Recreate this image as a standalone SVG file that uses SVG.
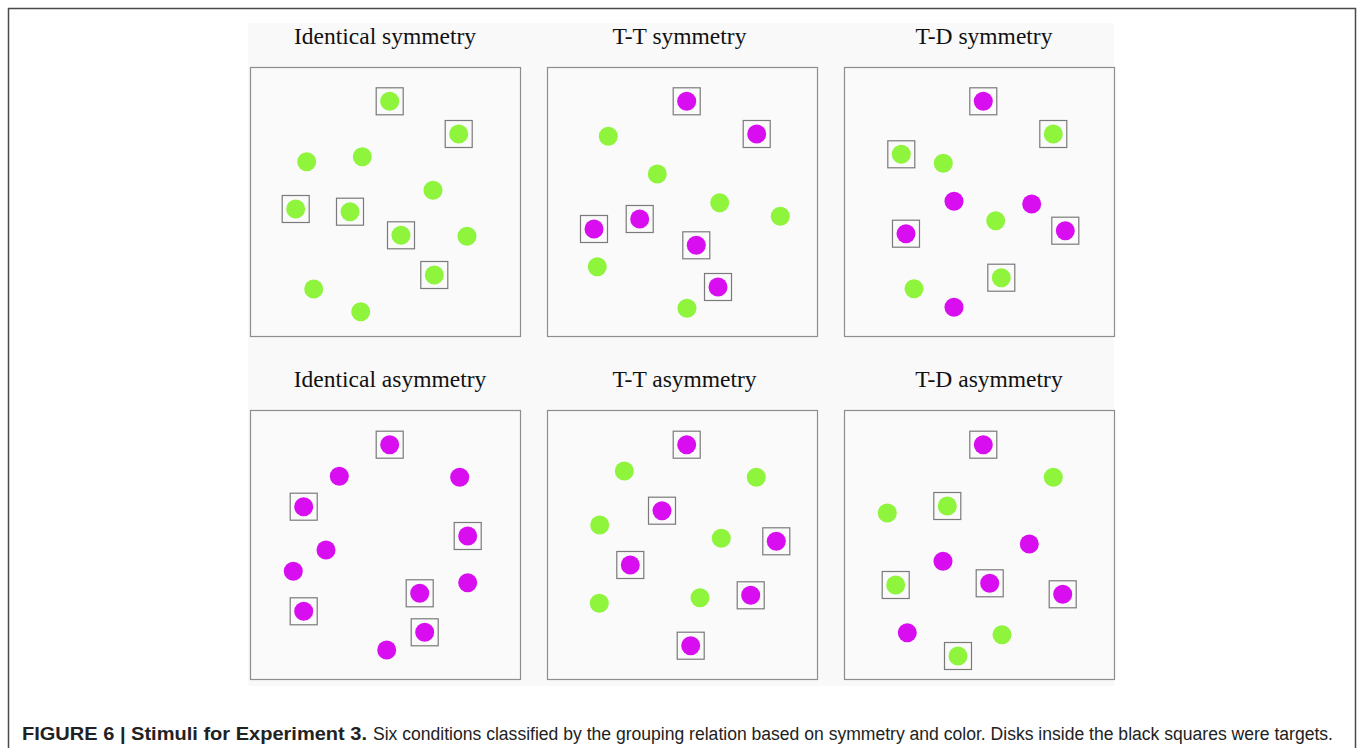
<svg xmlns="http://www.w3.org/2000/svg" width="1358" height="748" viewBox="0 0 1358 748">
<style>
.frame{fill:none;stroke:#4a4a4a;stroke-width:1.5}
.bg{fill:#f9f9f9}
.box{fill:#fafafa;stroke:#8e8e8e;stroke-width:1.2}
.title{font-family:"Liberation Serif","Times New Roman",serif;font-size:23.5px;fill:#111;text-anchor:middle}
.g{fill:#8ef43c}
.m{fill:#d80ef1}
.sq{fill:none;stroke:#7a7a7a;stroke-width:1.2}
.cap{font-family:"Liberation Sans",Arial,sans-serif;font-size:18px;fill:#222}
.capb{font-weight:bold}
</style>
<rect x="0" y="0" width="1358" height="748" fill="#ffffff"/>
<path class="frame" d="M8.5,748 V8.5 H1355.5 V748"/>
<rect class="bg" x="248" y="23" width="866" height="663"/>

<g id="panel-identical-symmetry">
<text class="title" x="385" y="44">Identical symmetry</text>
<rect class="box" x="250.5" y="67.5" width="270" height="269"/>
<g>
<circle class="g" cx="389.7" cy="101.3" r="9.5"/><rect class="sq" x="376.2" y="87.8" width="27" height="27"/>
<circle class="g" cx="458.7" cy="134" r="9.5"/><rect class="sq" x="445.2" y="120.5" width="27" height="27"/>
<circle class="g" cx="295.7" cy="209" r="9.5"/><rect class="sq" x="282.2" y="195.5" width="27" height="27"/>
<circle class="g" cx="350" cy="211.7" r="9.5"/><rect class="sq" x="336.5" y="198.2" width="27" height="27"/>
<circle class="g" cx="401" cy="235.3" r="9.5"/><rect class="sq" x="387.5" y="221.8" width="27" height="27"/>
<circle class="g" cx="434.3" cy="275" r="9.5"/><rect class="sq" x="420.8" y="261.5" width="27" height="27"/>
<circle class="g" cx="306.7" cy="161.7" r="9.5"/>
<circle class="g" cx="362.3" cy="156.7" r="9.5"/>
<circle class="g" cx="433" cy="190.3" r="9.5"/>
<circle class="g" cx="467" cy="236.3" r="9.5"/>
<circle class="g" cx="313.7" cy="289" r="9.5"/>
<circle class="g" cx="360.7" cy="311.7" r="9.5"/>
</g>
</g>

<g id="panel-tt-symmetry">
<text class="title" x="679.5" y="44">T-T symmetry</text>
<rect class="box" x="547.5" y="67.5" width="270" height="269"/>
<g>
<circle class="m" cx="686.7" cy="101.3" r="9.5"/><rect class="sq" x="673.2" y="87.8" width="27" height="27"/>
<circle class="m" cx="756.7" cy="134" r="9.5"/><rect class="sq" x="743.2" y="120.5" width="27" height="27"/>
<circle class="m" cx="594" cy="229" r="9.5"/><rect class="sq" x="580.5" y="215.5" width="27" height="27"/>
<circle class="m" cx="639.7" cy="219" r="9.5"/><rect class="sq" x="626.2" y="205.5" width="27" height="27"/>
<circle class="m" cx="696.3" cy="245.3" r="9.5"/><rect class="sq" x="682.8" y="231.8" width="27" height="27"/>
<circle class="m" cx="718" cy="287" r="9.5"/><rect class="sq" x="704.5" y="273.5" width="27" height="27"/>
<circle class="g" cx="608.3" cy="136.3" r="9.5"/>
<circle class="g" cx="657.3" cy="174" r="9.5"/>
<circle class="g" cx="719.7" cy="202.7" r="9.5"/>
<circle class="g" cx="780.3" cy="216.3" r="9.5"/>
<circle class="g" cx="597.3" cy="266.7" r="9.5"/>
<circle class="g" cx="687" cy="308.3" r="9.5"/>
</g>
</g>

<g id="panel-td-symmetry">
<text class="title" x="984" y="44">T-D symmetry</text>
<rect class="box" x="844.5" y="67.5" width="270" height="269"/>
<g>
<circle class="m" cx="983.3" cy="101.3" r="9.5"/><rect class="sq" x="969.8" y="87.8" width="27" height="27"/>
<circle class="g" cx="1053.3" cy="134" r="9.5"/><rect class="sq" x="1039.8" y="120.5" width="27" height="27"/>
<circle class="g" cx="901.3" cy="154.3" r="9.5"/><rect class="sq" x="887.8" y="140.8" width="27" height="27"/>
<circle class="m" cx="906" cy="233.7" r="9.5"/><rect class="sq" x="892.5" y="220.2" width="27" height="27"/>
<circle class="m" cx="1065.3" cy="230.7" r="9.5"/><rect class="sq" x="1051.8" y="217.2" width="27" height="27"/>
<circle class="g" cx="1001.3" cy="277.7" r="9.5"/><rect class="sq" x="987.8" y="264.2" width="27" height="27"/>
<circle class="g" cx="943.3" cy="163.3" r="9.5"/>
<circle class="m" cx="954" cy="201.3" r="9.5"/>
<circle class="m" cx="1031.7" cy="204" r="9.5"/>
<circle class="g" cx="995.7" cy="220.7" r="9.5"/>
<circle class="g" cx="914" cy="288.7" r="9.5"/>
<circle class="m" cx="954" cy="307.3" r="9.5"/>
</g>
</g>

<g id="panel-identical-asymmetry">
<text class="title" x="390" y="387">Identical asymmetry</text>
<rect class="box" x="250.5" y="410.5" width="270" height="269"/>
<g>
<circle class="m" cx="389.7" cy="444.7" r="9.5"/><rect class="sq" x="376.2" y="431.2" width="27" height="27"/>
<circle class="m" cx="303.7" cy="506.7" r="9.5"/><rect class="sq" x="290.2" y="493.2" width="27" height="27"/>
<circle class="m" cx="467.7" cy="536" r="9.5"/><rect class="sq" x="454.2" y="522.5" width="27" height="27"/>
<circle class="m" cx="419.7" cy="593.3" r="9.5"/><rect class="sq" x="406.2" y="579.8" width="27" height="27"/>
<circle class="m" cx="303.7" cy="611.3" r="9.5"/><rect class="sq" x="290.2" y="597.8" width="27" height="27"/>
<circle class="m" cx="424.7" cy="632.3" r="9.5"/><rect class="sq" x="411.2" y="618.8" width="27" height="27"/>
<circle class="m" cx="339.3" cy="476.3" r="9.5"/>
<circle class="m" cx="459.7" cy="477.3" r="9.5"/>
<circle class="m" cx="326" cy="550" r="9.5"/>
<circle class="m" cx="293.3" cy="571.3" r="9.5"/>
<circle class="m" cx="467.7" cy="582.7" r="9.5"/>
<circle class="m" cx="386.7" cy="650" r="9.5"/>
</g>
</g>

<g id="panel-tt-asymmetry">
<text class="title" x="684.5" y="387">T-T asymmetry</text>
<rect class="box" x="547.5" y="410.5" width="270" height="269"/>
<g>
<circle class="m" cx="686.7" cy="444.7" r="9.5"/><rect class="sq" x="673.2" y="431.2" width="27" height="27"/>
<circle class="m" cx="662" cy="510.7" r="9.5"/><rect class="sq" x="648.5" y="497.2" width="27" height="27"/>
<circle class="m" cx="776.3" cy="541.3" r="9.5"/><rect class="sq" x="762.8" y="527.8" width="27" height="27"/>
<circle class="m" cx="630.3" cy="565" r="9.5"/><rect class="sq" x="616.8" y="551.5" width="27" height="27"/>
<circle class="m" cx="750.7" cy="595.3" r="9.5"/><rect class="sq" x="737.2" y="581.8" width="27" height="27"/>
<circle class="m" cx="690.7" cy="645.7" r="9.5"/><rect class="sq" x="677.2" y="632.2" width="27" height="27"/>
<circle class="g" cx="624.3" cy="471" r="9.5"/>
<circle class="g" cx="756.3" cy="477.3" r="9.5"/>
<circle class="g" cx="599.7" cy="525" r="9.5"/>
<circle class="g" cx="721.3" cy="538.3" r="9.5"/>
<circle class="g" cx="700" cy="597.7" r="9.5"/>
<circle class="g" cx="599.3" cy="603.3" r="9.5"/>
</g>
</g>

<g id="panel-td-asymmetry">
<text class="title" x="989" y="387">T-D asymmetry</text>
<rect class="box" x="844.5" y="410.5" width="270" height="269"/>
<g>
<circle class="m" cx="983.3" cy="444.7" r="9.5"/><rect class="sq" x="969.8" y="431.2" width="27" height="27"/>
<circle class="g" cx="947.3" cy="506" r="9.5"/><rect class="sq" x="933.8" y="492.5" width="27" height="27"/>
<circle class="g" cx="895.7" cy="585" r="9.5"/><rect class="sq" x="882.2" y="571.5" width="27" height="27"/>
<circle class="m" cx="989.7" cy="583.3" r="9.5"/><rect class="sq" x="976.2" y="569.8" width="27" height="27"/>
<circle class="m" cx="1062.7" cy="594.3" r="9.5"/><rect class="sq" x="1049.2" y="580.8" width="27" height="27"/>
<circle class="g" cx="958" cy="656" r="9.5"/><rect class="sq" x="944.5" y="642.5" width="27" height="27"/>
<circle class="g" cx="1053.3" cy="477.3" r="9.5"/>
<circle class="g" cx="887.3" cy="513" r="9.5"/>
<circle class="m" cx="1029.3" cy="544" r="9.5"/>
<circle class="m" cx="943" cy="561.3" r="9.5"/>
<circle class="m" cx="907.3" cy="632.7" r="9.5"/>
<circle class="g" cx="1002" cy="634.7" r="9.5"/>
</g>
</g>

<g id="caption">
<text class="cap capb" x="22" y="740" textLength="345" lengthAdjust="spacingAndGlyphs">FIGURE 6 | Stimuli for Experiment 3.</text>
<text class="cap" x="373" y="740" textLength="960" lengthAdjust="spacingAndGlyphs">Six conditions classified by the grouping relation based on symmetry and color. Disks inside the black squares were targets.</text>
</g>
</svg>
